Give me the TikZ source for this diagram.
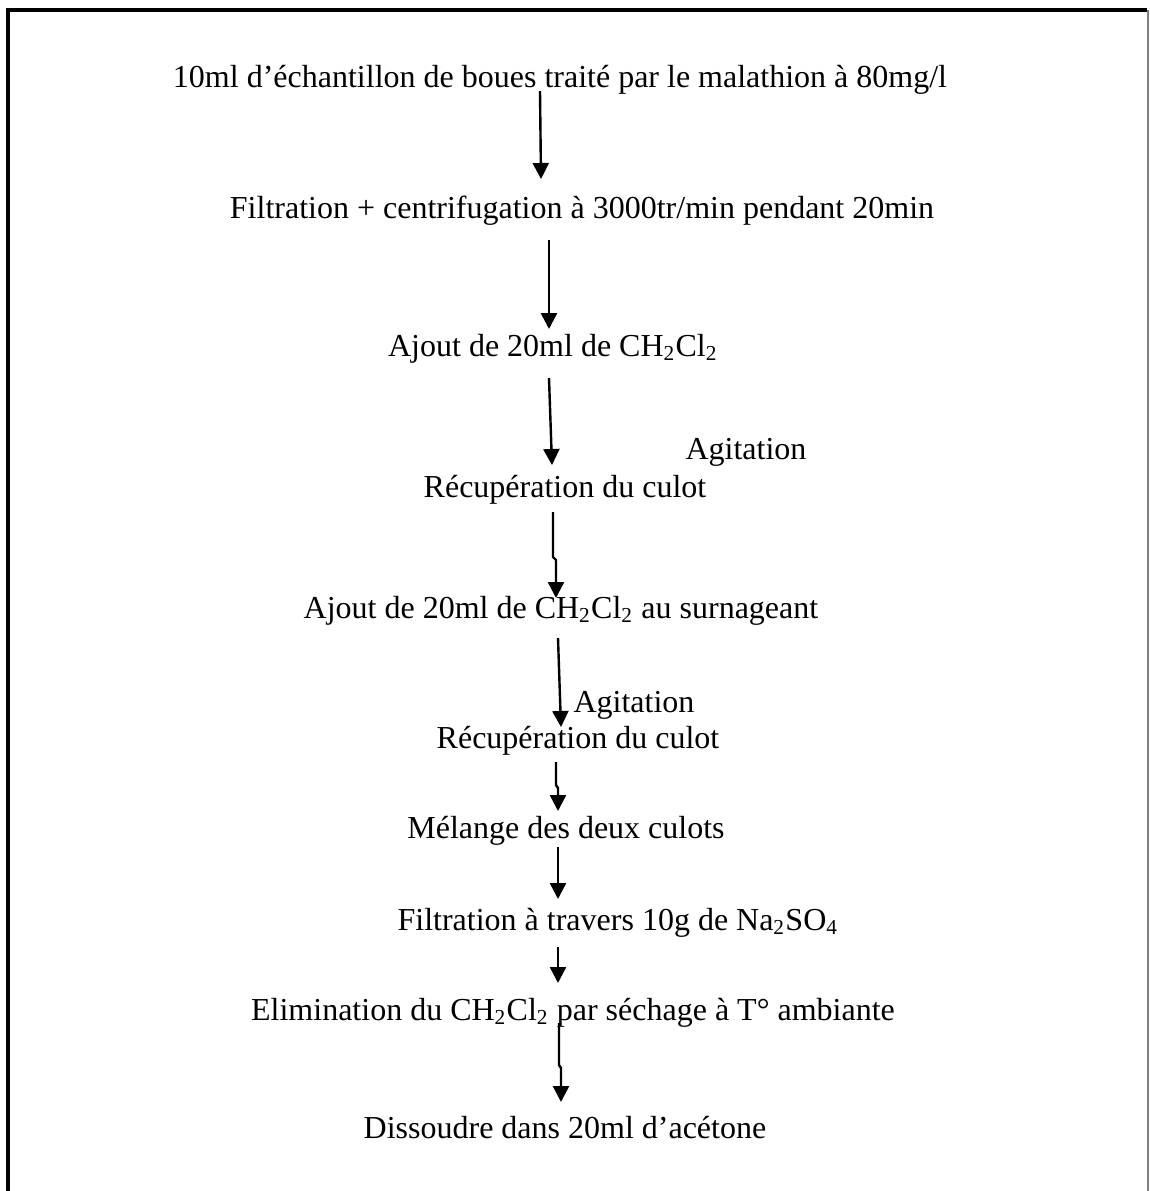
\documentclass[tikz,border=0pt]{standalone}
\usepackage{fontspec}
\setmainfont{Liberation Serif}
\usetikzlibrary{arrows.meta}

\tikzset{
  steptext/.style={anchor=base, inner sep=0pt, font=\fontsize{12}{14}\selectfont},
  flowarrow/.style={-{Triangle[length=6pt,width=6pt]}, line width=0.9pt},
}
\newcommand{\dcm}{CH\textsubscript{2}Cl\textsubscript{2}}

\begin{document}
\begin{tikzpicture}[x=0.375pt, y=-0.375pt]
  \useasboundingbox (0,0) rectangle (1149,1191);
  % frame
  \draw[line width=1.4pt] (8,1191) -- (8,10) -- (1147,10);
  \draw[gray, line width=0.5pt] (1148,10) -- (1148,1191);

  % steps
  \node[steptext] (boues) at (560,87) {10ml d’échantillon de boues traité par le malathion à 80mg/l};
  \node[steptext] (filtre) at (582,218) {Filtration + centrifugation à 3000tr/min pendant 20min};
  \node[steptext] (ajout1) at (553,356) {Ajout de 20ml de \dcm};
  \node[steptext] (agit1) at (746,459) {Agitation};
  \node[steptext] (culot1) at (565,497) {Récupération du culot};
  \node[steptext] (ajout2) at (561,618) {Ajout de 20ml de \dcm{} au surnageant};
  \node[steptext] (agit2) at (634,712) {Agitation};
  \node[steptext] (culot2) at (578,748) {Récupération du culot};
  \node[steptext] (melange) at (566,838) {Mélange des deux culots};
  \node[steptext] (na) at (618,930) {Filtration à travers 10g de Na\textsubscript{2}SO\textsubscript{4}};
  \node[steptext] (elim) at (573,1020) {Elimination du \dcm{} par séchage à T° ambiante};
  \node[steptext] (acetone) at (565,1138) {Dissoudre dans 20ml d’acétone};

  % arrow ends
  \coordinate (a1) at (540,91);   \coordinate (b1) at (541,179);
  \coordinate (a2) at (549,240);  \coordinate (b2) at (549,329);
  \coordinate (a3) at (549,378);  \coordinate (b3) at (552,465);
  \coordinate (a4) at (553,512);  \coordinate (b4) at (556,598);
  \coordinate (a5) at (558,638);  \coordinate (b5) at (561,727);
  \coordinate (a6) at (556,762);  \coordinate (b6) at (558,811);
  \coordinate (a7) at (558,847);  \coordinate (b7) at (558,899);
  \coordinate (a8) at (558,947);  \coordinate (b8) at (558,983);
  \coordinate (a9) at (559,1023); \coordinate (b9) at (561,1102);

  \draw[flowarrow] (a1) -- (b1);
  \draw[flowarrow] (a2) -- (b2);
  \draw[flowarrow] (a3) -- (b3);
  \draw[flowarrow] (a4) -- (a4 |- 0,557) -- (b4 |- 0,560) -- (b4);
  \draw[flowarrow] (a5) -- (b5);
  \draw[flowarrow] (a6) -- (a6 |- 0,785) -- (b6 |- 0,788) -- (b6);
  \draw[flowarrow] (a7) -- (b7);
  \draw[flowarrow] (a8) -- (b8);
  \draw[flowarrow] (a9) -- (a9 |- 0,1065) -- (b9 |- 0,1068) -- (b9);
\end{tikzpicture}
\end{document}
